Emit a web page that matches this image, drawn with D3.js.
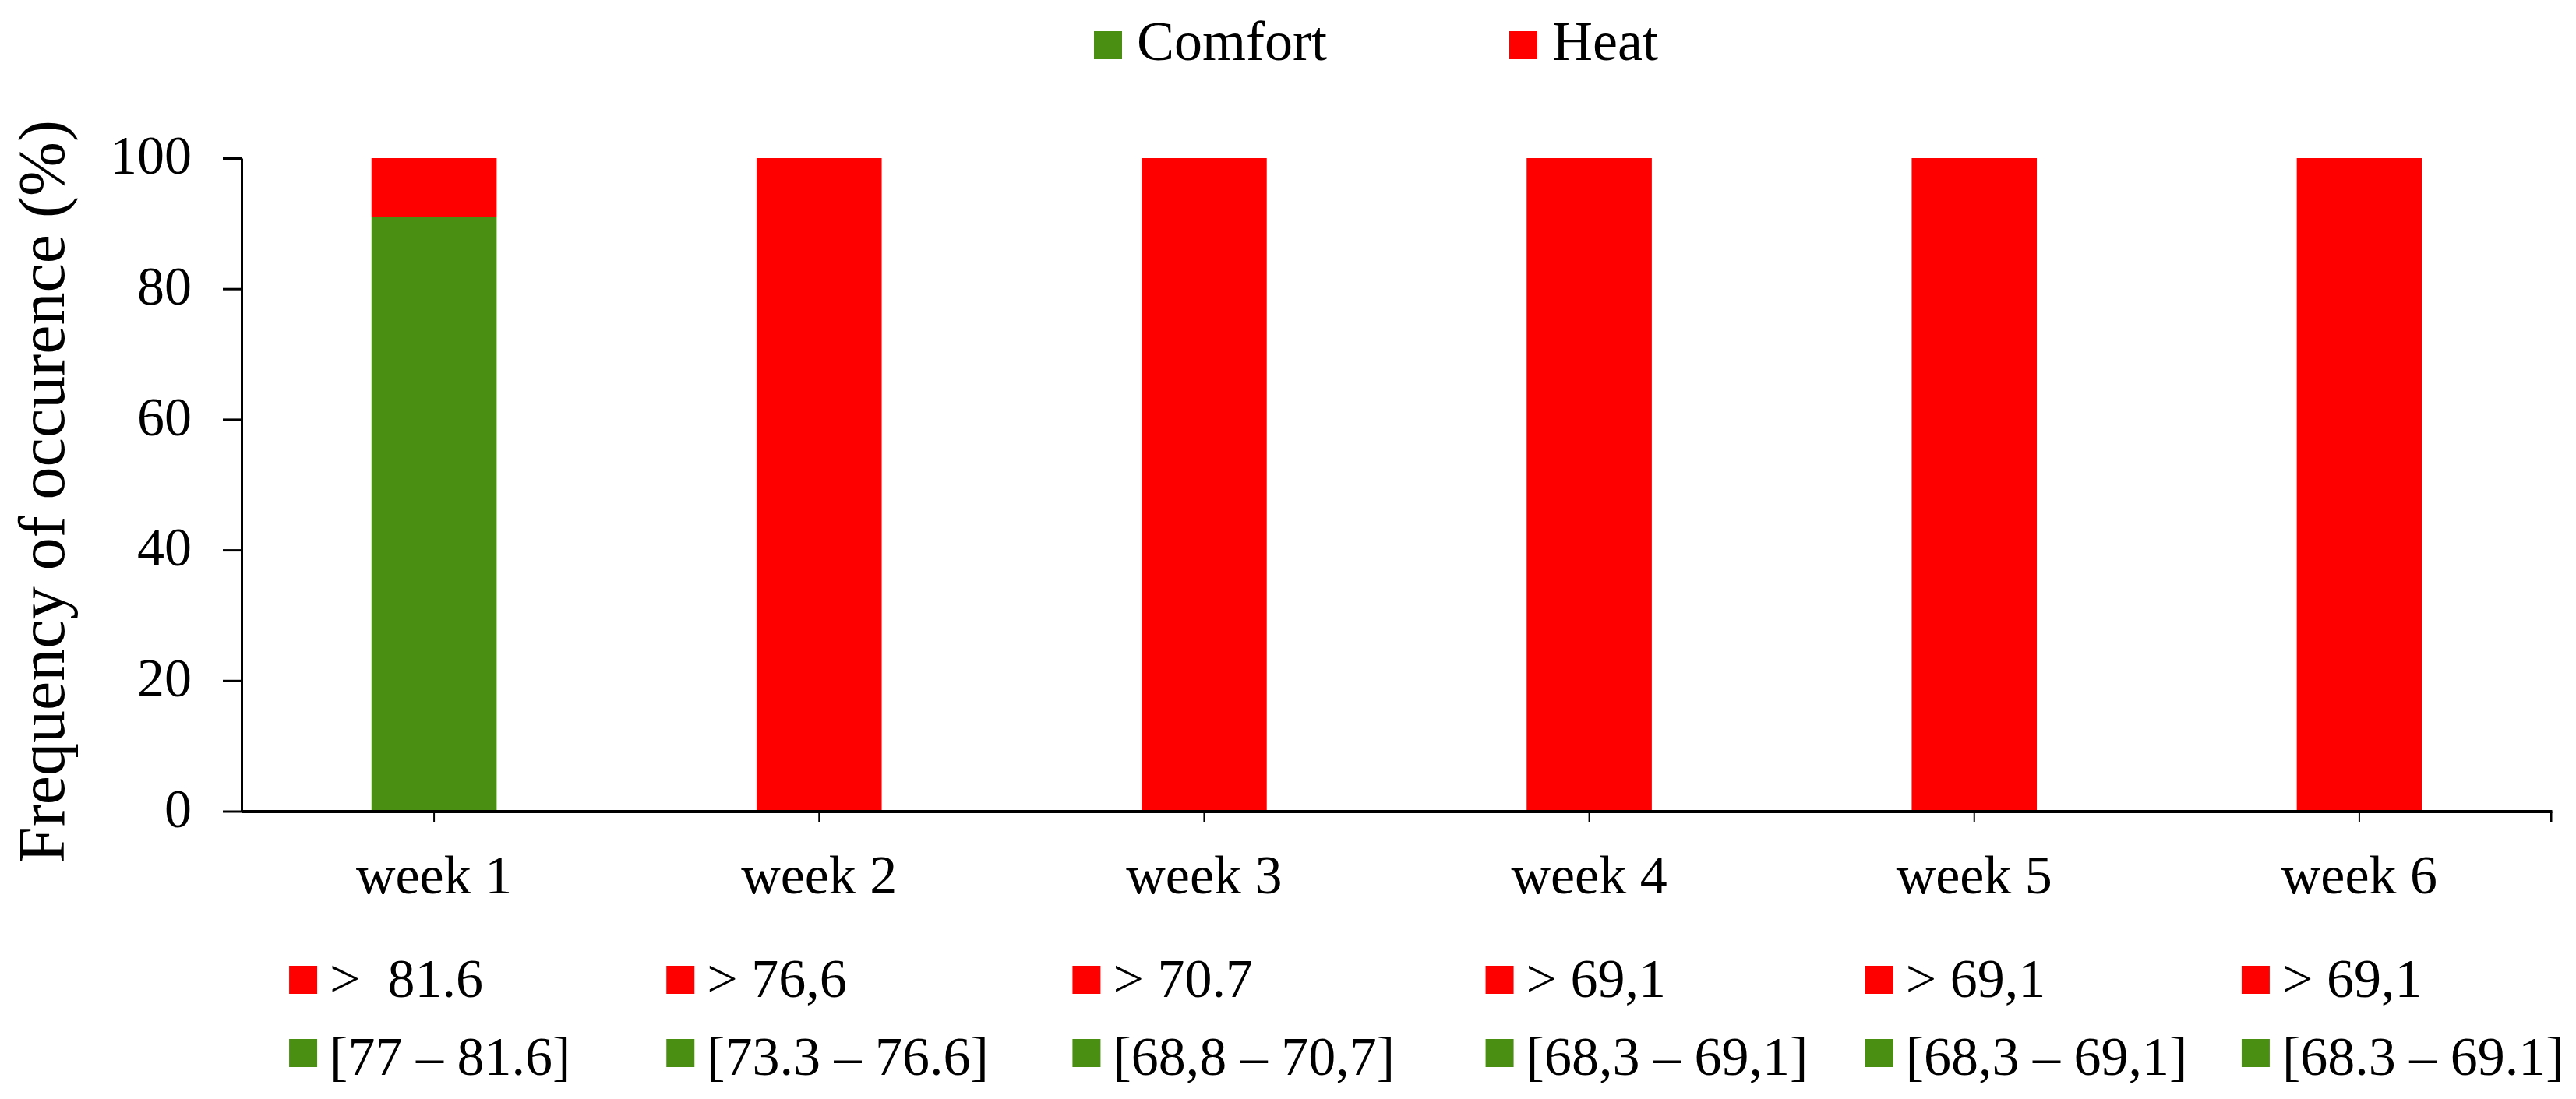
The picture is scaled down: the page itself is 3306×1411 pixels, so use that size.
<!DOCTYPE html>
<html>
<head>
<meta charset="utf-8">
<script src="https://cdn.jsdelivr.net/npm/d3@7"></script>
<style>
  body { margin: 0; background: #fff; }
  svg text { font-family: "Liberation Serif", "Times New Roman", serif; fill: #000; }
  .axis path, .axis line { stroke: #000; }
</style>
</head>
<body>
<svg width="3306" height="1411"></svg>
<script>
// data
var weeks = ["week 1", "week 2", "week 3", "week 4", "week 5", "week 6"];
var comfortPct = [91, 0, 0, 0, 0, 0];
var heatPct = [9, 100, 100, 100, 100, 100];
var heatLabels = [">  81.6", "> 76,6", "> 70.7", "> 69,1", "> 69,1", "> 69,1"];
var comfortLabels = ["[77 \u2013 81.6]", "[73.3 \u2013 76.6]", "[68,8 \u2013 70,7]",
                     "[68,3 \u2013 69,1]", "[68,3 \u2013 69,1]", "[68.3 \u2013 69.1]"];
var yTicks = [0, 20, 40, 60, 80, 100];
var seriesNames = ["Comfort", "Heat"];
var colors = {Comfort: "#4a8f12", Heat: "#ff0000"};

// layout (note: "top" is a reserved window name, so plot* names are used)
var svg = d3.select("svg"),
    plotLeft = 310, plotRight = 3275,
    plotTop = 203, plotBottom = 1041.5;

var x = d3.scaleBand().domain(weeks).range([plotLeft, plotRight])
    .paddingInner(0.675).paddingOuter(0.3375);
var y = d3.scaleLinear().domain([0, 100]).range([plotBottom, plotTop]);

// stacked bars
var rows = weeks.map(function (w, i) {
    return {week: w, Comfort: comfortPct[i], Heat: heatPct[i]};
});
var stacked = d3.stack().keys(seriesNames)(rows);

svg.append("g").selectAll("g")
    .data(stacked)
    .enter().append("g")
    .attr("fill", function (d) { return colors[d.key]; })
    .selectAll("rect")
    .data(function (d) { return d; })
    .enter().append("rect")
    .attr("x", function (d) { return x(d.data.week); })
    .attr("y", function (d) { return y(d[1]); })
    .attr("width", x.bandwidth())
    .attr("height", function (d) { return y(d[0]) - y(d[1]); });

// y axis
var gy = svg.append("g")
    .attr("class", "axis")
    .attr("transform", "translate(" + plotLeft + ",0)")
    .call(d3.axisLeft(y).tickValues(yTicks).tickSize(24).tickSizeOuter(0).tickPadding(40));
gy.select(".domain").attr("stroke-width", 3);
gy.selectAll(".tick line").attr("stroke-width", 3);
gy.selectAll(".tick text").attr("font-size", 70).attr("dy", "0.28em");

// x axis
var gx = svg.append("g")
    .attr("class", "axis")
    .attr("transform", "translate(0," + plotBottom + ")")
    .call(d3.axisBottom(x).tickSize(14).tickSizeOuter(0).tickPadding(42));
gx.select(".domain").attr("stroke-width", 4);
gx.selectAll(".tick line").attr("stroke-width", 2);
gx.selectAll(".tick text").attr("font-size", 70).attr("dy", "0.71em");
gx.append("line")
    .attr("x1", plotRight - 1).attr("x2", plotRight - 1)
    .attr("y1", 0).attr("y2", 14)
    .attr("stroke", "#000").attr("stroke-width", 3);

// y title
svg.append("text")
    .attr("transform", "translate(82,631) rotate(-90)")
    .attr("text-anchor", "middle")
    .attr("font-size", 84)
    .text("Frequency of occurence (%)");

// top legend
var legend = svg.append("g").selectAll("g")
    .data(seriesNames)
    .enter().append("g")
    .attr("transform", function (d, i) { return "translate(" + (1404 + i * 533) + ",40)"; });
legend.append("rect")
    .attr("width", 36).attr("height", 36)
    .attr("fill", function (d) { return colors[d]; });
legend.append("text")
    .attr("x", 55).attr("y", 37)
    .attr("font-size", 72)
    .text(function (d) { return d; });

// per-week threshold legends
var legendNudge = [-26, -36, -9, 27, 20, 9];
var wk = svg.append("g").selectAll("g")
    .data(weeks)
    .enter().append("g")
    .attr("transform", function (d, i) {
        return "translate(" + (x(d) + x.bandwidth() / 2 - 160 + legendNudge[i]) + ",0)";
    });
wk.append("rect")
    .attr("y", 1240).attr("width", 36).attr("height", 36)
    .attr("fill", colors.Heat);
wk.append("text")
    .attr("x", 52).attr("y", 1280)
    .attr("font-size", 70)
    .style("white-space", "pre")
    .text(function (d, i) { return heatLabels[i]; });
wk.append("rect")
    .attr("y", 1334).attr("width", 36).attr("height", 36)
    .attr("fill", colors.Comfort);
wk.append("text")
    .attr("x", 52).attr("y", 1380)
    .attr("font-size", 70)
    .text(function (d, i) { return comfortLabels[i]; });
</script>
</body>
</html>
